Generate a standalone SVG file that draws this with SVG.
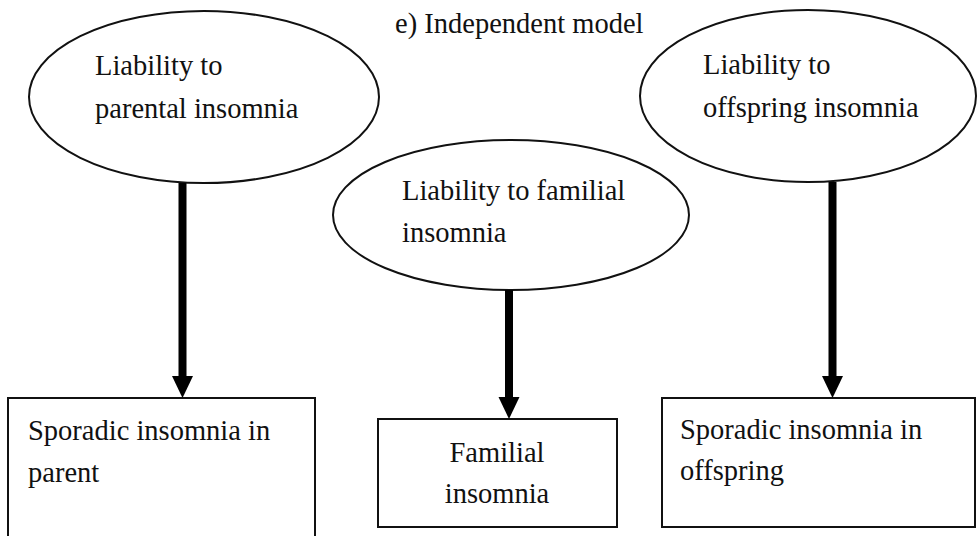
<svg xmlns="http://www.w3.org/2000/svg" width="977" height="536" viewBox="0 0 977 536">
  <style>
    text { font-family: "Liberation Serif", "Times New Roman", serif; font-size: 28.5px; fill: #111; }
    .shape { fill: #fff; stroke: #111; stroke-width: 2; }
    .shaft { stroke: #000; stroke-width: 8; fill: none; }
    .head { fill: #000; }
  </style>
  <rect width="977" height="536" fill="#fff"/>

  <text id="title" x="395" y="33">e) Independent model</text>

  <g id="liability-parental">
    <ellipse class="shape" cx="204" cy="97" rx="175" ry="86"/>
    <text x="95" y="75">Liability to</text>
    <text x="95" y="118">parental insomnia</text>
  </g>

  <g id="liability-offspring">
    <ellipse class="shape" cx="808" cy="96" rx="168" ry="86"/>
    <text x="703" y="74">Liability to</text>
    <text x="703" y="117">offspring insomnia</text>
  </g>

  <g id="liability-familial">
    <ellipse class="shape" cx="511" cy="215" rx="178" ry="75"/>
    <text x="402" y="200">Liability to familial</text>
    <text x="402" y="242">insomnia</text>
  </g>

  <g id="sporadic-parent">
    <rect class="shape" x="8" y="398" width="307" height="150"/>
    <text x="28" y="440">Sporadic insomnia in</text>
    <text x="28" y="482">parent</text>
  </g>

  <g id="familial-insomnia">
    <rect class="shape" x="378" y="419" width="239" height="108"/>
    <text x="497" y="462" text-anchor="middle">Familial</text>
    <text x="497" y="503" text-anchor="middle">insomnia</text>
  </g>

  <g id="sporadic-offspring">
    <rect class="shape" x="662" y="398" width="313" height="129"/>
    <text x="680" y="439">Sporadic insomnia in</text>
    <text x="680" y="480">offspring</text>
  </g>

  <g id="connectors">
    <line class="shaft" x1="182.5" y1="183" x2="182.5" y2="378"/>
    <polygon class="head" points="172,376 193,376 182.5,398"/>
    <line class="shaft" x1="832.5" y1="182" x2="832.5" y2="378"/>
    <polygon class="head" points="822,376 843,376 832.5,398"/>
    <line class="shaft" x1="509" y1="290" x2="509" y2="399"/>
    <polygon class="head" points="498.5,397 519.5,397 509,419"/>
  </g>
</svg>
